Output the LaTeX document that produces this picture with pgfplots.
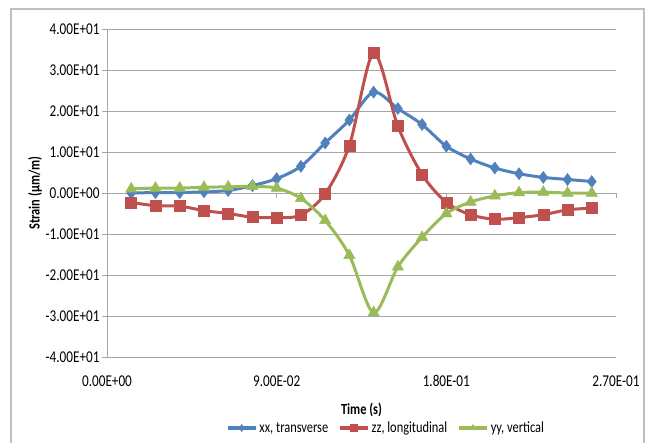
\documentclass[border=0pt]{standalone}
\usepackage{fontspec}
\setmainfont{Carlito}[FakeStretch=0.8]
\usepackage{pgfplots}
\pgfplotsset{compat=1.18}
\definecolor{cblue}{HTML}{4F81BD}
\definecolor{cred}{HTML}{C0504D}
\definecolor{cgreen}{HTML}{9BBB59}
\definecolor{gridgray}{HTML}{A6A6A6}
\definecolor{framegray}{HTML}{BFBFBF}
\newcommand\tf{\fontsize{16.5bp}{18bp}\selectfont}
\newcommand\lf{\fontsize{15.5bp}{17bp}\selectfont}
\begin{document}
\begin{tikzpicture}
\path[use as bounding box] (0bp,0bp) rectangle (654bp,443bp);
\draw[framegray, line width=1.2bp] (11bp,-2bp) -- (11bp,434bp) -- (644bp,434bp) -- (644bp,-2bp);
\begin{axis}[
  at={(107bp,86bp)}, anchor=south west,
  scale only axis, width=509bp, height=328bp,
  xmin=0, xmax=0.27, ymin=-40, ymax=40,
  clip=false,
  axis line style={draw=none},
  major tick length=0pt,
  ymajorgrids, grid style={gridgray, line width=1bp},
  xtick={0,0.09,0.18,0.27},
  xticklabels={0.00E+00,9.00E-02,1.80E-01,2.70E-01},
  ytick={-40,-30,-20,-10,0,10,20,30,40},
  yticklabels={-4.00E+01,-3.00E+01,-2.00E+01,-1.00E+01,0.00E+00,1.00E+01,2.00E+01,3.00E+01,4.00E+01},
  tick label style={font=\tf},
  xticklabel style={yshift=-15bp},
  yticklabel style={xshift=-4bp},
  xlabel={\textbf{Time (s)}},
  ylabel={\textbf{Strain (µm/m)}},
  xlabel style={font=\lf, at={(axis description cs:0.5,-0.1616)}, anchor=center},
  ylabel style={font=\lf, at={(axis description cs:-0.1415,0.5)}, anchor=center},
  legend columns=3,
  legend style={at={(axis description cs:0.548,-0.2165)}, anchor=center, draw=none, fill=none, font=\lf,
    /tikz/every even column/.append style={column sep=8bp}},
  legend image code/.code={\draw[mark repeat=2,mark phase=2,#1,line width=3.5bp,mark size=3.5bp] plot coordinates {(0bp,0bp) (14bp,0bp) (28bp,0bp)};},
  every axis plot/.append style={line width=3bp, smooth, tension=0.5},
]
\draw[gridgray, line width=1bp] (axis cs:0,-40) -- (axis cs:0,40);
\draw[gridgray, line width=1bp]
  (axis cs:0,-40) -- ++(-5bp,0bp) (axis cs:0,-30) -- ++(-5bp,0bp) (axis cs:0,-20) -- ++(-5bp,0bp)
  (axis cs:0,-10) -- ++(-5bp,0bp) (axis cs:0,0) -- ++(-5bp,0bp) (axis cs:0,10) -- ++(-5bp,0bp)
  (axis cs:0,20) -- ++(-5bp,0bp) (axis cs:0,30) -- ++(-5bp,0bp) (axis cs:0,40) -- ++(-5bp,0bp)
  (axis cs:0.09,0) -- ++(0bp,-5bp) (axis cs:0.18,0) -- ++(0bp,-5bp) (axis cs:0.27,0) -- ++(0bp,-5bp);
\addplot[cblue, mark=diamond*, mark size=6bp, mark options={solid, line width=0.5bp}] coordinates {
(0.012857,0.0) (0.025714,0.1) (0.038571,0.1) (0.051429,0.3) (0.064286,0.6)
(0.077143,1.8) (0.090000,3.5) (0.102857,6.5) (0.115714,12.2) (0.128571,17.8)
(0.141429,24.6) (0.154286,20.6) (0.167143,16.7) (0.180000,11.4) (0.192857,8.3)
(0.205714,6.1) (0.218571,4.7) (0.231429,3.8) (0.244286,3.3) (0.257143,2.8)};
\addlegendentry{xx, transverse}
\addplot[cred, mark=square*, mark size=5.5bp, mark options={solid, line width=0.5bp}] coordinates {
(0.012857,-2.3) (0.025714,-3.1) (0.038571,-3.2) (0.051429,-4.3) (0.064286,-5.0)
(0.077143,-5.9) (0.090000,-6.0) (0.102857,-5.4) (0.115714,-0.2) (0.128571,11.6)
(0.141429,34.1) (0.154286,16.3) (0.167143,4.5) (0.180000,-2.3) (0.192857,-5.3)
(0.205714,-6.4) (0.218571,-6.0) (0.231429,-5.3) (0.244286,-4.1) (0.257143,-3.7)};
\addlegendentry{zz, longitudinal}
\addplot[cgreen, mark=triangle*, mark size=6.5bp, mark options={solid, line width=0.5bp}] coordinates {
(0.012857,1.0) (0.025714,1.2) (0.038571,1.2) (0.051429,1.4) (0.064286,1.5)
(0.077143,1.6) (0.090000,1.2) (0.102857,-1.3) (0.115714,-6.7) (0.128571,-15.2)
(0.141429,-29.2) (0.154286,-18.0) (0.167143,-10.8) (0.180000,-5.0) (0.192857,-2.2)
(0.205714,-0.7) (0.218571,0.1) (0.231429,0.2) (0.244286,0.0) (0.257143,0.0)};
\addlegendentry{yy, vertical}
\end{axis}
\end{tikzpicture}
\end{document}
